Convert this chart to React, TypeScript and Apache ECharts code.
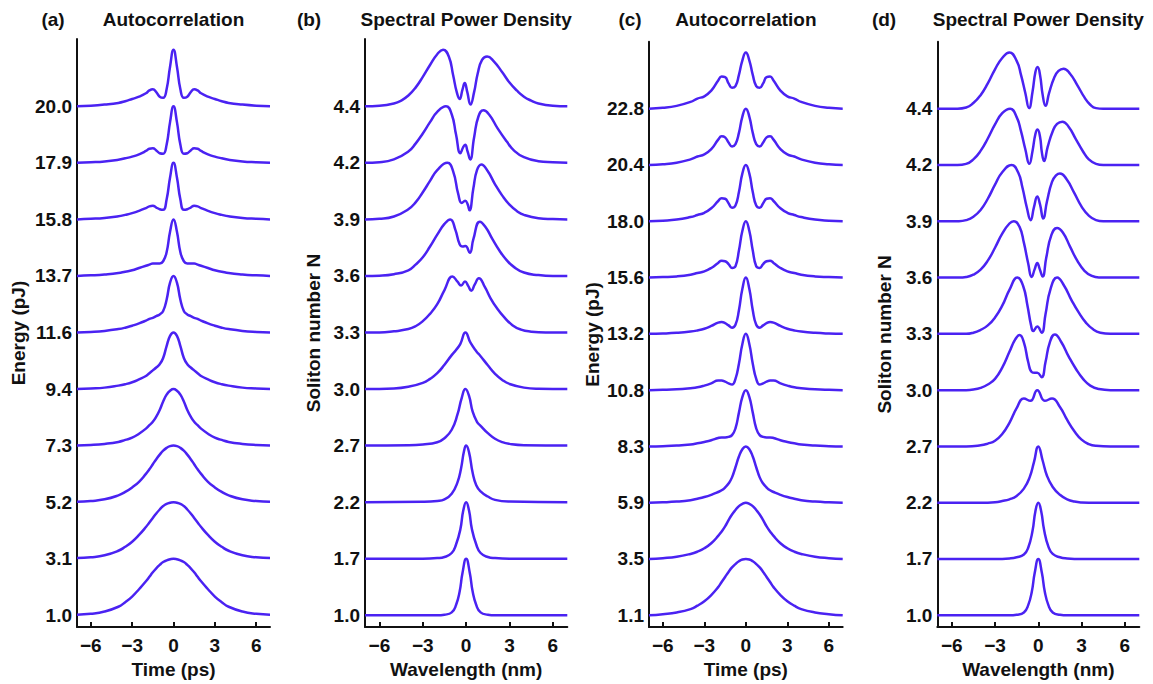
import React, { useEffect, useRef } from "react";
import * as echarts from "echarts";

// ---------- data ----------
// Autocorrelation traces are symmetric: half-profiles at these delays (ps), mirrored about 0.
const AC_X = [0, 0.25, 0.5, 0.75, 1, 1.25, 1.5, 1.75, 2, 2.5, 3, 3.5, 4, 5, 6, 7];

const A_LABELS = ["1.0", "3.1", "5.2", "7.3", "9.4", "11.6", "13.7", "15.8", "17.9", "20.0"];
const A0 = [1, 0.99, 0.97, 0.94, 0.89, 0.83, 0.76, 0.68, 0.6, 0.46, 0.33, 0.23, 0.15, 0.065, 0.025, 0.01];
const A1 = [1, 0.99, 0.97, 0.93, 0.87, 0.8, 0.72, 0.64, 0.56, 0.42, 0.3, 0.21, 0.14, 0.06, 0.025, 0.01];
const A2 = [1, 0.99, 0.96, 0.91, 0.84, 0.76, 0.67, 0.58, 0.5, 0.36, 0.26, 0.18, 0.12, 0.05, 0.02, 0.005];
const A3 = [1, 0.97, 0.9, 0.78, 0.63, 0.51, 0.42, 0.36, 0.3, 0.21, 0.14, 0.1, 0.065, 0.03, 0.01, 0];
const A4 = [1, 0.94, 0.76, 0.55, 0.44, 0.38, 0.33, 0.28, 0.23, 0.17, 0.12, 0.085, 0.06, 0.025, 0.01, 0];
const A5 = [1, 0.88, 0.58, 0.38, 0.32, 0.29, 0.26, 0.24, 0.21, 0.16, 0.12, 0.085, 0.06, 0.028, 0.01, 0];
const A6 = [1, 0.78, 0.42, 0.26, 0.22, 0.22, 0.22, 0.2, 0.18, 0.14, 0.1, 0.075, 0.05, 0.025, 0.01, 0];
const A7 = [1, 0.74, 0.35, 0.17, 0.18, 0.21, 0.24, 0.23, 0.2, 0.15, 0.11, 0.08, 0.055, 0.025, 0.01, 0];
const A8 = [1, 0.72, 0.32, 0.16, 0.17, 0.22, 0.26, 0.25, 0.21, 0.15, 0.11, 0.08, 0.055, 0.025, 0.01, 0];
const A9 = [1, 0.7, 0.3, 0.15, 0.17, 0.25, 0.3, 0.28, 0.23, 0.17, 0.13, 0.09, 0.06, 0.03, 0.01, 0];

const C_LABELS = ["1.1", "3.5", "5.9", "8.3", "10.8", "13.2", "15.6", "18.0", "20.4", "22.8"];
const C0 = [1, 0.99, 0.96, 0.91, 0.85, 0.77, 0.68, 0.59, 0.5, 0.36, 0.25, 0.17, 0.11, 0.05, 0.02, 0];
const C1 = [1, 0.98, 0.94, 0.87, 0.79, 0.69, 0.58, 0.49, 0.41, 0.28, 0.19, 0.13, 0.09, 0.04, 0.015, 0];
const C2 = [1, 0.95, 0.82, 0.63, 0.45, 0.34, 0.27, 0.22, 0.19, 0.14, 0.1, 0.07, 0.045, 0.02, 0.007, 0];
const C3 = [1, 0.88, 0.6, 0.32, 0.2, 0.17, 0.16, 0.16, 0.15, 0.11, 0.08, 0.055, 0.035, 0.015, 0.005, 0];
const C4 = [1, 0.82, 0.47, 0.2, 0.1, 0.12, 0.15, 0.17, 0.17, 0.12, 0.08, 0.05, 0.035, 0.015, 0.005, 0];
const C5 = [1, 0.8, 0.42, 0.16, 0.11, 0.15, 0.19, 0.21, 0.2, 0.14, 0.09, 0.06, 0.04, 0.018, 0.006, 0];
const C6 = [1, 0.83, 0.48, 0.2, 0.17, 0.24, 0.29, 0.3, 0.26, 0.17, 0.11, 0.08, 0.05, 0.02, 0.008, 0];
const C7 = [1, 0.85, 0.52, 0.28, 0.24, 0.32, 0.4, 0.41, 0.36, 0.23, 0.15, 0.11, 0.075, 0.03, 0.01, 0];
const C8 = [1, 0.86, 0.57, 0.37, 0.33, 0.4, 0.49, 0.51, 0.45, 0.28, 0.19, 0.15, 0.1, 0.04, 0.012, 0];
const C9 = [1, 0.86, 0.6, 0.4, 0.37, 0.45, 0.56, 0.57, 0.5, 0.32, 0.22, 0.18, 0.12, 0.05, 0.015, 0];

// Spectra: [wavelength offset (nm), normalised power]
const B_LABELS = ["1.0", "1.7", "2.2", "2.7", "3.0", "3.3", "3.6", "3.9", "4.2", "4.4"];
const B0 = [[-7, 0], [-2, 0], [-1.5, 0.01], [-1, 0.05], [-0.7, 0.18], [-0.45, 0.42], [-0.25, 0.75], [0, 1], [0.25, 0.75], [0.45, 0.42], [0.7, 0.18], [1, 0.05], [1.5, 0.01], [2, 0], [7, 0]];
const B1 = [[-7, 0], [-3, 0], [-2, 0.01], [-1.5, 0.03], [-1, 0.1], [-0.7, 0.25], [-0.4, 0.52], [-0.2, 0.85], [0, 1], [0.2, 0.85], [0.4, 0.52], [0.7, 0.25], [1, 0.1], [1.5, 0.03], [2, 0.01], [3, 0], [7, 0]];
const B2 = [[-7, 0], [-3, 0.005], [-2, 0.02], [-1.5, 0.05], [-1, 0.15], [-0.6, 0.35], [-0.35, 0.6], [-0.15, 0.9], [0, 1], [0.2, 0.88], [0.45, 0.52], [0.7, 0.3], [1, 0.19], [1.5, 0.1], [2, 0.04], [3, 0.01], [7, 0]];
const B3 = [[-7, 0], [-4, 0.005], [-3, 0.02], [-2, 0.06], [-1.5, 0.13], [-1, 0.28], [-0.6, 0.55], [-0.3, 0.85], [-0.05, 1], [0.2, 0.88], [0.45, 0.6], [0.75, 0.42], [1, 0.35], [1.5, 0.22], [2, 0.12], [2.5, 0.06], [3, 0.03], [4, 0.008], [7, 0]];
const B4 = [[-7, 0], [-5, 0.01], [-4, 0.04], [-3, 0.11], [-2.5, 0.18], [-2, 0.28], [-1.5, 0.43], [-1, 0.6], [-0.7, 0.69], [-0.4, 0.8], [-0.05, 1], [0.3, 0.82], [0.7, 0.67], [1, 0.58], [1.5, 0.42], [2, 0.27], [2.5, 0.16], [3, 0.09], [4, 0.025], [5, 0.005], [7, 0]];
const B5 = [[-7, 0], [-6, 0], [-5, 0.02], [-4, 0.06], [-3.5, 0.11], [-3, 0.2], [-2.5, 0.33], [-2, 0.5], [-1.5, 0.75], [-0.95, 0.99], [-0.6, 0.9], [-0.35, 0.83], [-0.08, 0.9], [0.15, 0.82], [0.35, 0.74], [0.6, 0.85], [0.88, 0.96], [1.3, 0.8], [1.7, 0.6], [2.1, 0.44], [2.6, 0.28], [3.2, 0.13], [3.8, 0.05], [4.5, 0.015], [5.5, 0], [7, 0]];
const B6 = [[-7, 0], [-6, 0.005], [-5, 0.03], [-4, 0.1], [-3.5, 0.2], [-3, 0.33], [-2.5, 0.52], [-2, 0.73], [-1.5, 0.92], [-1.1, 1], [-0.75, 0.82], [-0.45, 0.56], [-0.25, 0.52], [-0.05, 0.53], [0.25, 0.41], [0.5, 0.65], [0.95, 0.96], [1.35, 0.86], [1.8, 0.66], [2.3, 0.45], [2.8, 0.28], [3.3, 0.16], [4, 0.06], [5, 0.015], [6, 0], [7, 0]];
const B7 = [[-7, 0], [-6, 0.01], [-5, 0.05], [-4, 0.18], [-3.5, 0.3], [-3, 0.48], [-2.5, 0.68], [-2, 0.87], [-1.3, 1], [-0.9, 0.85], [-0.55, 0.45], [-0.3, 0.29], [-0.07, 0.33], [0.1, 0.27], [0.23, 0.16], [0.5, 0.55], [0.75, 0.87], [1.05, 0.97], [1.5, 0.85], [2, 0.62], [2.5, 0.42], [3, 0.26], [3.5, 0.15], [4, 0.08], [5, 0.02], [6, 0.005], [7, 0]];
const B8 = [[-7, 0], [-6, 0.01], [-5, 0.06], [-4, 0.2], [-3.5, 0.34], [-3, 0.52], [-2.5, 0.72], [-2, 0.9], [-1.4, 1], [-1, 0.86], [-0.7, 0.5], [-0.4, 0.17], [-0.2, 0.28], [-0.07, 0.32], [0.1, 0.2], [0.28, 0.06], [0.55, 0.45], [0.85, 0.82], [1.2, 0.93], [1.6, 0.85], [2.2, 0.6], [2.8, 0.38], [3.3, 0.22], [4, 0.1], [5, 0.03], [6, 0.01], [7, 0]];
const B9 = [[-7, 0], [-6, 0.01], [-5, 0.05], [-4.5, 0.1], [-4, 0.19], [-3.5, 0.33], [-3, 0.52], [-2.5, 0.73], [-2, 0.92], [-1.6, 1], [-1.2, 0.88], [-0.9, 0.55], [-0.65, 0.25], [-0.45, 0.13], [-0.25, 0.3], [-0.1, 0.41], [0.08, 0.25], [0.3, 0.03], [0.55, 0.25], [0.8, 0.58], [1.1, 0.82], [1.45, 0.88], [1.9, 0.8], [2.5, 0.6], [3, 0.42], [3.5, 0.28], [4, 0.17], [4.5, 0.1], [5, 0.05], [6, 0.01], [7, 0]];

const D_LABELS = ["1.0", "1.7", "2.2", "2.7", "3.0", "3.3", "3.6", "3.9", "4.2", "4.4"];
const D0 = [[-7, 0], [-2, 0], [-1.5, 0.01], [-1, 0.05], [-0.7, 0.18], [-0.45, 0.42], [-0.25, 0.75], [0, 1], [0.25, 0.75], [0.45, 0.42], [0.7, 0.18], [1, 0.05], [1.5, 0.01], [2, 0], [7, 0]];
const D1 = [[-7, 0], [-3, 0], [-2, 0.01], [-1.5, 0.03], [-1, 0.08], [-0.7, 0.2], [-0.4, 0.5], [-0.2, 0.85], [0, 1], [0.2, 0.85], [0.4, 0.52], [0.7, 0.22], [1, 0.09], [1.5, 0.03], [2, 0.01], [3, 0], [7, 0]];
const D2 = [[-7, 0], [-4, 0], [-3, 0.01], [-2.5, 0.03], [-2, 0.06], [-1.5, 0.12], [-1, 0.25], [-0.6, 0.45], [-0.3, 0.72], [0, 1], [0.3, 0.75], [0.6, 0.48], [1, 0.28], [1.5, 0.14], [2, 0.06], [2.5, 0.02], [3, 0.005], [4, 0], [7, 0]];
const D3 = [[-7, 0], [-5, 0], [-4, 0.02], [-3.5, 0.05], [-3, 0.1], [-2.5, 0.22], [-2, 0.42], [-1.5, 0.68], [-1, 0.85], [-0.55, 0.81], [-0.07, 1], [0.45, 0.81], [0.95, 0.85], [1.5, 0.7], [2, 0.47], [2.5, 0.27], [3, 0.12], [3.5, 0.04], [4, 0.01], [5, 0], [7, 0]];
const D4 = [[-7, 0], [-5, 0], [-4.5, 0.01], [-4, 0.04], [-3.5, 0.1], [-3, 0.2], [-2.5, 0.4], [-2, 0.68], [-1.6, 0.9], [-1.3, 0.98], [-1, 0.85], [-0.7, 0.5], [-0.45, 0.32], [-0.25, 0.31], [-0.07, 0.31], [0.23, 0.23], [0.5, 0.5], [0.8, 0.85], [1.15, 0.99], [1.6, 0.85], [2.1, 0.6], [2.6, 0.38], [3.1, 0.2], [3.6, 0.08], [4.2, 0.02], [5, 0], [7, 0]];
const D5 = [[-7, 0], [-5, 0], [-4.5, 0.02], [-4, 0.07], [-3.5, 0.15], [-3, 0.29], [-2.5, 0.5], [-2, 0.78], [-1.45, 1], [-1.05, 0.85], [-0.75, 0.5], [-0.5, 0.15], [-0.35, 0.05], [-0.07, 0.13], [0.23, 0.02], [0.5, 0.35], [0.85, 0.8], [1.3, 1], [1.8, 0.85], [2.3, 0.6], [2.8, 0.38], [3.3, 0.2], [3.8, 0.08], [4.3, 0.02], [5, 0], [7, 0]];
const D6 = [[-7, 0], [-5.5, 0], [-5, 0.01], [-4.5, 0.05], [-4, 0.14], [-3.5, 0.3], [-3, 0.53], [-2.5, 0.78], [-2, 0.96], [-1.7, 1], [-1.3, 0.9], [-1, 0.62], [-0.7, 0.25], [-0.46, 0.01], [-0.25, 0.15], [-0.07, 0.26], [0.1, 0.15], [0.3, 0.02], [0.55, 0.35], [0.9, 0.75], [1.3, 0.88], [1.7, 0.8], [2.2, 0.55], [2.7, 0.3], [3.2, 0.12], [3.7, 0.03], [4.2, 0], [7, 0]];
const D7 = [[-7, 0], [-5.5, 0], [-5, 0.02], [-4.5, 0.08], [-4, 0.2], [-3.5, 0.4], [-3, 0.65], [-2.5, 0.87], [-1.85, 1], [-1.4, 0.87], [-1.1, 0.6], [-0.8, 0.25], [-0.53, 0.02], [-0.3, 0.25], [-0.07, 0.44], [0.12, 0.3], [0.34, 0.05], [0.6, 0.35], [0.95, 0.7], [1.25, 0.82], [1.5, 0.85], [1.95, 0.75], [2.5, 0.5], [3, 0.26], [3.5, 0.1], [4, 0.02], [4.5, 0], [7, 0]];
const D8 = [[-7, 0], [-5.6, 0], [-5, 0.02], [-4.5, 0.1], [-4, 0.25], [-3.5, 0.47], [-3, 0.72], [-2.5, 0.92], [-1.95, 1], [-1.5, 0.85], [-1.2, 0.6], [-0.9, 0.28], [-0.62, 0.02], [-0.4, 0.25], [-0.2, 0.55], [-0.05, 0.63], [0.12, 0.5], [0.25, 0.22], [0.4, 0.07], [0.65, 0.32], [1, 0.6], [1.3, 0.73], [1.67, 0.77], [2.1, 0.68], [2.6, 0.46], [3.1, 0.24], [3.5, 0.1], [4, 0.02], [4.5, 0], [7, 0]];
const D9 = [[-7, 0], [-5.6, 0], [-5, 0.02], [-4.5, 0.1], [-4, 0.24], [-3.5, 0.45], [-3, 0.7], [-2.5, 0.9], [-2, 1], [-1.5, 0.85], [-1.2, 0.6], [-0.9, 0.28], [-0.64, 0.01], [-0.4, 0.3], [-0.2, 0.65], [-0.05, 0.74], [0.12, 0.6], [0.3, 0.25], [0.5, 0.05], [0.75, 0.28], [1.1, 0.55], [1.4, 0.67], [1.75, 0.71], [2.2, 0.62], [2.7, 0.42], [3.2, 0.2], [3.6, 0.07], [4, 0.01], [4.5, 0], [7, 0]];

const X_TICKS = [-6, -3, 0, 3, 6];

// ---------- helpers ----------
const mirror = (vs: number[]) => {
  const pts: number[][] = [];
  for (let k = AC_X.length - 1; k > 0; k--) pts.push([-AC_X[k], vs[k]]);
  for (let k = 0; k < AC_X.length; k++) pts.push([AC_X[k], vs[k]]);
  return pts;
};

const LINE = "#4a22f2";
const INK = "#111111";
const FONT = '"Liberation Sans", Arial, Helvetica, sans-serif';

const PANELS = [
  { tag: "(a)", title: "Autocorrelation", tagX: 53, left: 77, right: 270, top: 39, bottom: 632.7, yName: "Energy (pJ)", xName: "Time (ps)", nameGap: 49, labels: A_LABELS, curves: [A0, A1, A2, A3, A4, A5, A6, A7, A8, A9].map(mirror) },
  { tag: "(b)", title: "Spectral Power Density", tagX: 309, left: 365, right: 567.3, top: 39, bottom: 632.7, yName: "Soliton number N", xName: "Wavelength (nm)", nameGap: 42, labels: B_LABELS, curves: [B0, B1, B2, B3, B4, B5, B6, B7, B8, B9] },
  { tag: "(c)", title: "Autocorrelation", tagX: 630, left: 649, right: 842.7, top: 41.7, bottom: 635, yName: "Energy (pJ)", xName: "Time (ps)", nameGap: 47, labels: C_LABELS, curves: [C0, C1, C2, C3, C4, C5, C6, C7, C8, C9].map(mirror) },
  { tag: "(d)", title: "Spectral Power Density", tagX: 884, left: 937.3, right: 1139.3, top: 41.7, bottom: 635, yName: "Soliton number N", xName: "Wavelength (nm)", nameGap: 43, labels: D_LABELS, curves: [D0, D1, D2, D3, D4, D5, D6, D7, D8, D9] },
];

const Y_MIN = -0.21;
const Y_MAX = 10.19;

export default function App() {
  const ref = useRef<HTMLDivElement>(null);
  useEffect(() => {
    document.body.style.margin = "0";
    document.body.style.overflow = "hidden";
    const chart = echarts.init(ref.current!, null, { renderer: "svg" });
    const grid: any[] = [];
    const xAxis: any[] = [];
    const yAxis: any[] = [];
    const series: any[] = [];
    const graphic: any[] = [];
    PANELS.forEach((p, pi) => {
      grid.push({ left: p.left, top: p.top, width: p.right - p.left, height: p.bottom - p.top, containLabel: false });
      xAxis.push({
        type: "value", gridIndex: pi, min: -7, max: 7,
        name: p.xName, nameLocation: "middle", nameGap: 26,
        nameTextStyle: { fontFamily: FONT, fontWeight: "bold", fontSize: 19, color: INK },
        axisLine: { onZero: false, lineStyle: { color: INK, width: 2 } },
        axisTick: { inside: true, length: 5, customValues: X_TICKS, lineStyle: { color: INK, width: 2 } },
        axisLabel: {
          customValues: X_TICKS, margin: 9, fontFamily: FONT, fontWeight: "bold", fontSize: 19, color: INK,
          formatter: (v: number) => (v < 0 ? "\u2212" + Math.abs(v) : String(v)),
        },
        splitLine: { show: false },
      });
      yAxis.push({
        type: "value", gridIndex: pi, min: Y_MIN, max: Y_MAX,
        name: p.yName, nameLocation: "middle", nameGap: p.nameGap, nameRotate: 90,
        nameTextStyle: { fontFamily: FONT, fontWeight: "bold", fontSize: 19, color: INK },
        axisLine: { onZero: false, lineStyle: { color: INK, width: 2 } },
        axisTick: { show: false },
        axisLabel: {
          customValues: p.labels.map((_, i) => i), margin: 5, fontFamily: FONT, fontWeight: "bold", fontSize: 19, color: INK,
          formatter: (v: number) => p.labels[Math.round(v)] ?? "",
        },
        splitLine: { show: false },
      });
      p.curves.forEach((pts, i) => {
        series.push({
          type: "line", xAxisIndex: pi, yAxisIndex: pi, showSymbol: false, smooth: 0.5,
          lineStyle: { color: LINE, width: 2.5 }, silent: true,
          data: pts.map((q) => [q[0], i + q[1]]),
        });
      });
      const cx = (p.left + p.right) / 2;
      graphic.push({ type: "text", x: p.tagX, y: 19, style: { text: p.tag, font: `bold 19px ${FONT}`, fill: INK, textAlign: "center", textVerticalAlign: "middle" } });
      graphic.push({ type: "text", x: cx, y: 19, style: { text: p.title, font: `bold 19px ${FONT}`, fill: INK, textAlign: "center", textVerticalAlign: "middle" } });
    });
    chart.setOption({ animation: false, backgroundColor: "#ffffff", grid, xAxis, yAxis, series, graphic });
    return () => chart.dispose();
  }, []);
  return <div ref={ref} style={{ width: 1153, height: 684 }} />;
}
